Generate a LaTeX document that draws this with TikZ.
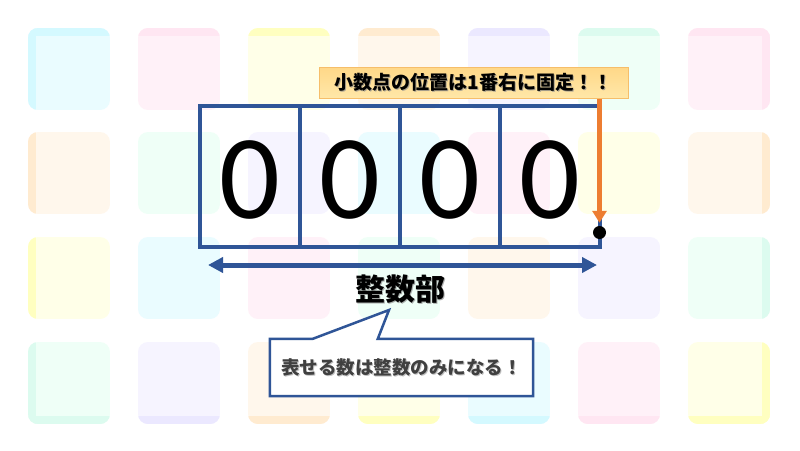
\documentclass[tikz,border=0pt]{standalone}
\usepackage{fontspec}
\setmainfont{Carlito}
\newfontfamily\jp{Noto Sans CJK JP}
\usetikzlibrary{arrows.meta,calc}
\definecolor{tC}{HTML}{EAFCFF}\definecolor{tCe}{HTML}{D4F9FF}
\definecolor{tP}{HTML}{FFF1F8}\definecolor{tPe}{HTML}{FFE6F2}
\definecolor{tY}{HTML}{FFFFE8}\definecolor{tYe}{HTML}{FFFFC0}
\definecolor{tO}{HTML}{FFF7EC}\definecolor{tOe}{HTML}{FFEBD0}
\definecolor{tL}{HTML}{F6F4FF}\definecolor{tLe}{HTML}{EBE8FF}
\definecolor{tM}{HTML}{EFFFF7}\definecolor{tMe}{HTML}{DCFBEF}
\definecolor{boxblue}{HTML}{2F5597}
\definecolor{arrorange}{HTML}{ED7D31}
\definecolor{lblborder}{HTML}{F6BE6A}
\definecolor{lbltop}{HTML}{FFD888}
\definecolor{lblbot}{HTML}{FFE7A8}
\definecolor{txtgray}{HTML}{404040}
\tikzset{
  cell/.style={draw=boxblue,line width=3.5pt,minimum width=100pt,minimum height=141pt,inner sep=0pt},
  digit/.style={font=\fontsize{120}{120}\selectfont,inner sep=0pt},
  lbl/.style={draw=lblborder,line width=1pt,top color=lbltop,bottom color=lblbot,minimum width=309pt,minimum height=31pt,inner sep=0pt},
  lbltext/.style={font=\jp\bfseries\fontsize{19}{19}\selectfont,inner sep=0pt},
  shadowtext/.style={text=black!45,opacity=0.7},
  oarrow/.style={draw=arrorange,line width=4.5pt,-{Triangle[length=12pt,width=14pt]}},
  barrow/.style={draw=boxblue,line width=5pt,{Triangle[length=15pt,width=15pt]}-{Triangle[length=15pt,width=15pt]}},
  blackdot/.style={circle,fill=black,minimum size=13pt,inner sep=0pt},
  titletext/.style={font=\jp\bfseries\fontsize{30}{30}\selectfont,inner sep=0pt},
  callbox/.style={minimum width=263pt,minimum height=57pt,inner sep=0pt},
  calltext/.style={font=\jp\bfseries\fontsize{18.5}{18.5}\selectfont,text=txtgray,inner sep=0pt},
}
\begin{document}
\begin{tikzpicture}[x=1pt,y=-1pt]
\useasboundingbox (0,0) rectangle (800,450);
\fill[white] (0,0) rectangle (800,450);
% background tiles
\foreach \r/\yy/\row in {0/28/{C,P,Y,O,L,M,P},1/132/{O,M,L,C,P,Y,O},2/237/{Y,C,P,M,O,L,M},3/342/{M,L,O,Y,C,P,Y}}{
  \foreach \c [count=\i from 0] in \row {
    \pgfmathsetmacro\xx{28+110*\i}
    \begin{scope}
      \clip[rounded corners=10pt] (\xx,\yy) rectangle ++(82,82);
      \fill[t\c] (\xx,\yy) rectangle ++(82,82);
      \ifnum\r=0 \fill[t\c e] (\xx,\yy) rectangle ++(82,8);\fi
      \ifnum\r=3 \fill[t\c e] (\xx,\yy+74) rectangle ++(82,8);\fi
      \ifnum\i=0 \fill[t\c e] (\xx,\yy) rectangle ++(8,82);\fi
      \ifnum\i=6 \fill[t\c e] (\xx+74,\yy) rectangle ++(8,82);\fi
    \end{scope}
  }
}
% cells
\node[cell] (c1) at (250,176.5) {};
\node[cell] (c2) at (350,176.5) {};
\node[cell] (c3) at (450,176.5) {};
\node[cell] (c4) at (550,176.5) {};
\node[digit] (d1) at (250,180) {0};
\node[digit] (d2) at (350,180) {0};
\node[digit] (d3) at (450,180) {0};
\node[digit] (d4) at (550,180) {0};
% label
\node[lbl] (lab) at (473.5,82.5) {};
\node[lbltext,shadowtext] at ($(lab.center)+(1.2,1.2)$) {小数点の位置は1番右に固定！！};
\node[lbltext] (labt) at (lab.center) {小数点の位置は1番右に固定！！};
% point and orange arrow
\node[blackdot] (pt) at (599.5,232.5) {};
\draw[oarrow,shorten >=3pt] (lab.south -| pt) -- (pt.north);
% range arrow
\coordinate (la) at (208,265);
\coordinate (ra) at (597,265);
\draw[barrow] (la) -- (ra);
\node[titletext,text=black!45,opacity=0.7] at (401.5,290.5) {整数部};
\node[titletext] (part) at (400,289) {整数部};
% callout
\node[callbox] (callout) at (401.5,367.5) {};
\coordinate (tip) at (389,310);
\filldraw[draw=boxblue,fill=white,line width=2.5pt,line join=miter]
  (callout.north west) -- ($(callout.north west)+(43,0)$) -- (tip)
  -- ($(callout.north west)+(108,0)$) -- (callout.north east)
  -- (callout.south east) -- (callout.south west) -- cycle;
\node[calltext,text=black!35,opacity=0.7] at ($(callout.center)+(1.2,1.2)$) {表せる数は整数のみになる！};
\node[calltext] (ct) at (callout.center) {表せる数は整数のみになる！};
\end{tikzpicture}
\end{document}
